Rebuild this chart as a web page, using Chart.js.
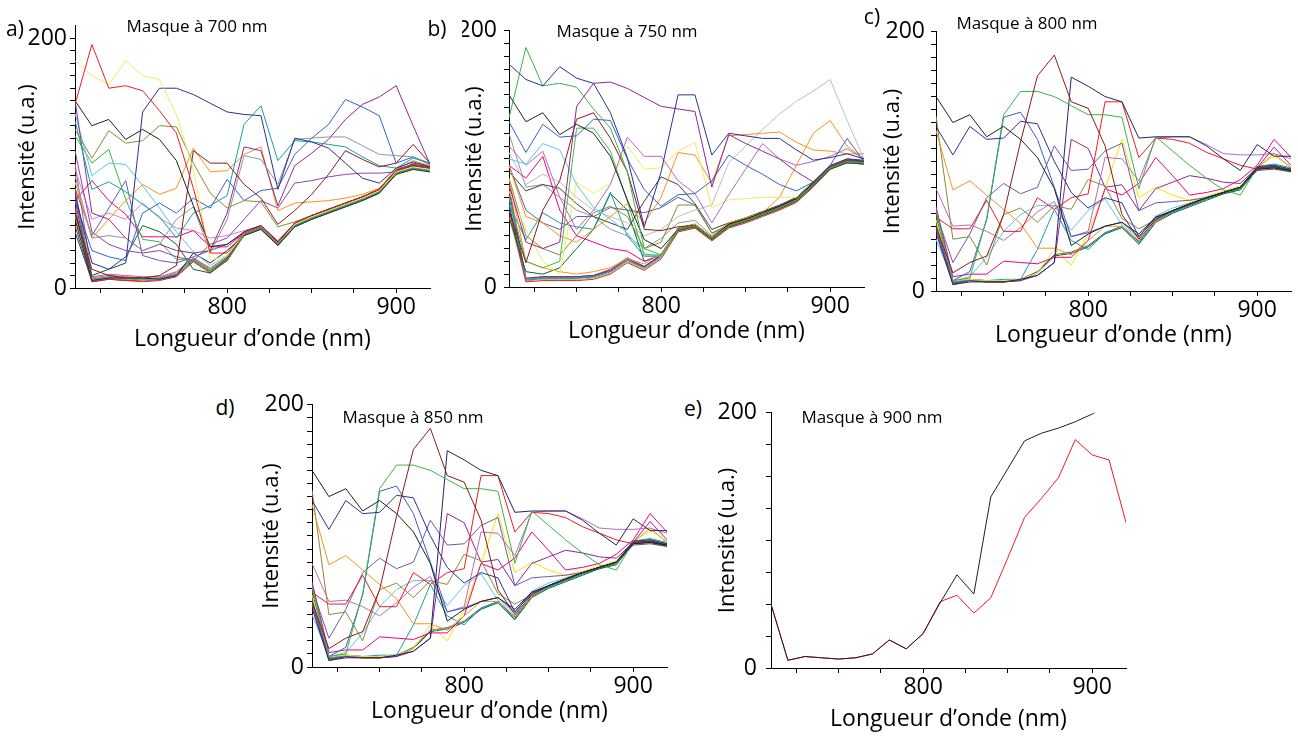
<!DOCTYPE html>
<html>
<head>
<meta charset="UTF-8">
<title>Spectres avec masque</title>
<script src="https://cdn.jsdelivr.net/npm/chart.js"></script>
<style>
  body { margin: 0; background: #fff; }
  #page { position: relative; width: 1298px; height: 736px; overflow: hidden; font-family: "Open Sans", sans-serif; color: #000; }
  canvas { position: absolute; }
  .lettre { position: absolute; font-size: 21px; line-height: 1; transform: translate(-50%, -50%); }
  .masque { position: absolute; font-size: 17px; line-height: 1; white-space: nowrap; transform: translate(-50%, -50%); }
</style>
</head>
<body>
<div id="page">
  <canvas id="chartA" width="425" height="344" style="left:15px;top:9px"></canvas>
  <canvas id="chartB" width="412" height="335" style="left:462px;top:10px"></canvas>
  <canvas id="chartC" width="418" height="337" style="left:880px;top:12px"></canvas>
  <canvas id="chartD" width="418" height="337" style="left:259px;top:388px"></canvas>
  <canvas id="chartE" width="421" height="343" style="left:715px;top:390px"></canvas>

  <div class="lettre" style="left:15px;top:28px">a)</div>
  <div class="lettre" style="left:437px;top:28px">b)</div>
  <div class="lettre" style="left:872px;top:16px">c)</div>
  <div class="lettre" style="left:225px;top:407px">d)</div>
  <div class="lettre" style="left:693px;top:408px">e)</div>

  <div class="masque" style="left:197px;top:25px">Masque à 700 nm</div>
  <div class="masque" style="left:627px;top:30px">Masque à 750 nm</div>
  <div class="masque" style="left:1027px;top:22px">Masque à 800 nm</div>
  <div class="masque" style="left:413px;top:416px">Masque à 850 nm</div>
  <div class="masque" style="left:872px;top:416px">Masque à 900 nm</div>
</div>

<script>
// longueurs d'onde (nm), un point tous les 10 nm
var wavelengths = [710, 720, 730, 740, 750, 760, 770, 780, 790, 800, 810, 820, 830, 840, 850, 860, 870, 880, 890, 900, 910, 920];

// graduations
var xTickValues = [725, 750, 775, 800, 825, 850, 875, 900];
var xTickLabels = [800, 900];
var yTickValues = [0, 10, 20, 30, 40, 50, 60, 70, 80, 90, 100, 110, 120, 130, 140, 150, 160, 170, 180, 190, 200];
var yTickValuesE = [0, 25, 50, 75, 100, 125, 150, 175, 200];
var yTickLabels = [0, 200];

// a) masque a 700 nm
var a01 = [147, 195, 160, 162, 158, 142, 124, 80, 28, 28, 44, 49, 36, 52, 58, 63, 68, 73, 79, 94, 98, 96];
var a02 = [182, 170, 163, 182, 170, 167, 139, 95, 22, 26, 44, 49, 36, 51, 57, 62, 67, 72, 78, 93, 97, 95];
var a03 = [75, 20, 15, 20, 141, 160, 160, 155, 148, 141, 139, 138, 79, 120, 117, 112, 100, 88, 84, 96, 101, 97];
var a04 = [150, 130, 135, 119, 127, 119, 102, 66, 33, 35, 45, 50, 37, 52, 58, 63, 68, 73, 79, 94, 98, 96];
var a05 = [127, 104, 126, 116, 118, 130, 129, 100, 76, 64, 70, 69, 49, 53, 58, 63, 68, 73, 79, 94, 98, 96];
var a06 = [60, 15, 10, 8, 8, 10, 18, 110, 100, 100, 83, 72, 51, 62, 75, 91, 110, 103, 97, 100, 115, 100];
var a07 = [134, 79, 85, 77, 67, 57, 40, 60, 66, 74, 131, 146, 102, 118, 117, 115, 113, 105, 98, 96, 104, 100];
var a08 = [90, 40, 42, 40, 30, 35, 55, 65, 28, 55, 106, 103, 83, 119, 120, 121, 121, 114, 107, 106, 105, 100];
var a09 = [70, 30, 25, 22, 60, 68, 60, 72, 64, 87, 70, 78, 80, 107, 120, 131, 151, 145, 138, 100, 105, 99];
var a10 = [150, 60, 55, 40, 30, 35, 30, 28, 30, 60, 113, 110, 66, 98, 108, 119, 135, 147, 153, 162, 130, 99];
var a11 = [85, 40, 55, 70, 83, 75, 80, 112, 93, 94, 107, 113, 62, 68, 69, 70, 72, 75, 80, 95, 102, 98];
var a12 = [110, 45, 35, 30, 28, 30, 25, 22, 35, 40, 55, 70, 64, 84, 86, 89, 91, 92, 92, 93, 100, 98];
var a13 = [140, 90, 100, 99, 82, 64, 45, 29, 18, 26, 44, 49, 36, 51, 57, 62, 67, 72, 78, 93, 97, 95];
var a14 = [122, 100, 111, 71, 39, 37, 23, 22, 14, 25, 43, 48, 35, 50, 56, 61, 66, 71, 77, 92, 96, 94];
var a15 = [70, 86, 70, 59, 41, 41, 41, 46, 33, 33, 44, 49, 36, 52, 58, 63, 68, 73, 79, 94, 98, 96];
var a16 = [95, 55, 60, 55, 68, 56, 48, 46, 40, 42, 46, 50, 38, 52, 58, 63, 68, 73, 79, 94, 98, 96];
var a17 = [80, 42, 64, 86, 26, 22, 20, 25, 30, 35, 44, 49, 36, 52, 58, 63, 68, 73, 79, 94, 98, 96];
var a18 = [60, 10, 15, 25, 50, 45, 35, 15, 12, 24, 43, 48, 35, 50, 56, 61, 66, 71, 77, 92, 96, 94];
var a19 = [55, 6, 8, 8, 8, 7, 10, 28, 20, 30, 42, 47, 34, 49, 55, 60, 65, 70, 76, 91, 95, 93];
var a20 = [65, 5, 7, 6, 5, 6, 9, 21, 12, 22, 43, 48, 35, 50, 56, 61, 66, 71, 77, 92, 96, 94];
var a21 = [58, 6, 8, 7, 6, 7, 10, 22, 13, 22, 42, 47, 34, 49, 55, 60, 65, 70, 76, 91, 95, 93];
var a22 = [62, 7, 9, 8, 7, 7, 11, 23, 14, 23, 44, 49, 36, 51, 57, 62, 67, 72, 78, 93, 97, 95];
var a23 = [70, 6, 8, 7, 6, 7, 10, 22, 13, 22, 43, 48, 35, 51, 57, 62, 67, 72, 78, 94, 98, 96];
var a24 = [50, 5, 7, 6, 6, 7, 10, 22, 13, 23, 44, 49, 36, 52, 58, 63, 68, 73, 79, 95, 99, 97];
var a25 = [75, 7, 9, 8, 7, 8, 11, 23, 14, 23, 43, 48, 35, 50, 56, 61, 66, 71, 77, 93, 97, 95];
var a26 = [45, 6, 8, 7, 6, 7, 10, 22, 13, 22, 42, 47, 34, 49, 55, 60, 65, 70, 76, 92, 96, 94];
var a27 = [80, 8, 10, 9, 8, 8, 12, 24, 15, 24, 44, 49, 36, 51, 57, 62, 67, 72, 78, 94, 98, 96];
var a28 = [100, 9, 11, 10, 9, 9, 13, 24, 16, 25, 45, 50, 37, 52, 58, 63, 68, 73, 79, 95, 99, 97];

// b) masque a 750 nm
var b01 = [174, 162, 157, 172, 163, 159, 136, 101, 47, 90, 150, 150, 103, 120, 118, 116, 116, 107, 99, 101, 104, 100];
var b02 = [80, 35, 30, 35, 141, 159, 160, 155, 148, 141, 139, 137, 78, 119, 112, 106, 100, 90, 82, 94, 99, 98];
var b03 = [132, 187, 157, 159, 156, 139, 124, 90, 30, 25, 45, 48, 38, 48, 52, 57, 62, 68, 80, 93, 98, 97];
var b04 = [150, 129, 136, 119, 127, 120, 102, 68, 37, 30, 45, 48, 38, 49, 53, 58, 63, 69, 81, 94, 99, 98];
var b05 = [129, 105, 127, 117, 118, 131, 130, 100, 76, 63, 72, 73, 83, 103, 95, 88, 80, 75, 82, 95, 116, 98];
var b06 = [60, 19, 60, 83, 131, 136, 116, 90, 45, 44, 47, 48, 38, 48, 52, 57, 62, 68, 80, 93, 98, 97];
var b07 = [70, 20, 15, 20, 124, 124, 106, 67, 25, 25, 45, 48, 38, 48, 52, 57, 62, 68, 80, 93, 98, 97];
var b08 = [100, 96, 112, 107, 80, 62, 53, 42, 26, 24, 45, 48, 38, 48, 52, 57, 62, 68, 80, 93, 98, 97];
var b09 = [110, 95, 106, 70, 45, 60, 80, 117, 102, 102, 83, 73, 50, 72, 92, 112, 100, 95, 98, 102, 108, 100];
var b10 = [75, 45, 20, 10, 82, 73, 81, 110, 92, 93, 106, 113, 62, 68, 69, 70, 70, 70, 80, 94, 99, 97];
var b11 = [95, 55, 50, 40, 35, 45, 55, 65, 50, 70, 105, 103, 81, 118, 119, 120, 121, 113, 107, 106, 104, 104];
var b12 = [85, 20, 15, 12, 10, 12, 15, 22, 18, 26, 46, 49, 39, 50, 54, 58, 70, 95, 120, 130, 110, 100];
var b13 = [105, 80, 88, 82, 70, 60, 55, 50, 40, 45, 55, 60, 64, 97, 110, 123, 135, 145, 153, 162, 130, 100];
var b14 = [90, 75, 80, 77, 65, 55, 50, 45, 67, 86, 80, 65, 45, 50, 54, 59, 64, 70, 82, 95, 100, 98];
var b15 = [95, 85, 102, 60, 40, 35, 30, 28, 20, 25, 46, 49, 38, 49, 53, 58, 63, 69, 81, 94, 99, 97];
var b16 = [64, 37, 58, 50, 47, 45, 74, 40, 24, 24, 45, 48, 38, 48, 52, 57, 62, 68, 80, 93, 98, 97];
var b17 = [55, 12, 10, 15, 30, 45, 73, 60, 20, 25, 44, 47, 37, 47, 51, 56, 61, 67, 79, 92, 97, 96];
var b18 = [85, 40, 30, 25, 40, 58, 63, 55, 30, 35, 64, 64, 42, 49, 53, 58, 63, 69, 81, 94, 99, 97];
var b19 = [120, 78, 80, 70, 60, 55, 45, 40, 30, 38, 50, 52, 40, 50, 54, 58, 63, 69, 81, 94, 99, 97];
var b20 = [95, 60, 50, 45, 55, 55, 62, 60, 58, 62, 70, 64, 42, 48, 52, 57, 62, 68, 80, 93, 98, 97];
var b21 = [60, 4, 5, 5, 5, 6, 10, 19, 13, 22, 43, 46, 36, 46, 50, 55, 60, 66, 78, 92, 97, 96];
var b22 = [55, 5, 6, 6, 6, 7, 11, 20, 14, 23, 44, 47, 37, 47, 51, 56, 61, 67, 79, 92, 97, 96];
var b23 = [70, 6, 7, 7, 7, 8, 12, 21, 15, 24, 45, 48, 38, 48, 52, 57, 62, 68, 80, 93, 98, 97];
var b24 = [75, 7, 8, 8, 8, 9, 13, 22, 16, 25, 46, 49, 39, 49, 53, 58, 63, 69, 81, 94, 99, 98];
var b25 = [65, 5, 7, 7, 7, 8, 12, 21, 15, 24, 45, 48, 38, 49, 53, 58, 63, 69, 81, 94, 100, 99];
var b26 = [80, 6, 8, 8, 8, 9, 13, 22, 16, 25, 46, 49, 39, 49, 53, 58, 63, 69, 81, 94, 99, 98];
var b27 = [72, 6, 8, 8, 8, 9, 14, 23, 16, 25, 45, 48, 38, 48, 52, 57, 62, 68, 80, 93, 98, 97];
var b28 = [62, 5, 7, 7, 7, 8, 12, 21, 15, 24, 44, 47, 37, 47, 51, 56, 61, 67, 79, 92, 97, 96];

// c) masque a 800 nm (d) a 850 nm donne les memes courbes)
var c01 = [150, 130, 136, 119, 127, 117, 103, 79, 35, 44, 50, 53, 44, 57, 62, 67, 72, 76, 80, 94, 95, 93];
var c02 = [127, 105, 127, 117, 118, 131, 129, 100, 76, 64, 72, 68, 42, 56, 62, 67, 72, 76, 80, 96, 97, 94];
var c03 = [50, 14, 22, 27, 59, 115, 166, 182, 146, 141, 112, 59, 40, 55, 62, 67, 72, 76, 80, 95, 96, 93];
var c04 = [62, 8, 10, 56, 136, 154, 154, 150, 143, 136, 136, 134, 79, 119, 108, 97, 87, 78, 74, 95, 97, 94];
var c05 = [50, 8, 15, 55, 134, 138, 117, 80, 42, 45, 50, 53, 42, 57, 62, 67, 72, 76, 80, 95, 96, 94];
var c06 = [45, 5, 7, 7, 7, 9, 12, 22, 165, 158, 150, 146, 118, 119, 119, 119, 112, 102, 93, 113, 104, 104];
var c07 = [57, 48, 48, 70, 46, 46, 72, 63, 72, 75, 146, 146, 103, 118, 117, 114, 107, 102, 97, 94, 96, 93];
var c08 = [124, 78, 85, 74, 63, 52, 33, 33, 28, 39, 50, 50, 39, 54, 62, 68, 72, 76, 80, 95, 106, 95];
var c09 = [135, 40, 42, 20, 59, 64, 53, 66, 63, 86, 81, 56, 48, 55, 62, 67, 72, 76, 80, 95, 96, 94];
var c10 = [79, 50, 51, 46, 39, 49, 61, 69, 42, 46, 103, 102, 85, 118, 119, 119, 113, 106, 105, 105, 106, 102];
var c11 = [60, 22, 44, 72, 83, 75, 80, 112, 93, 94, 108, 114, 62, 68, 69, 70, 72, 76, 80, 95, 96, 94];
var c12 = [48, 6, 8, 7, 7, 8, 12, 22, 117, 110, 80, 82, 62, 79, 84, 89, 87, 84, 83, 95, 111, 97];
var c13 = [65, 11, 13, 13, 23, 22, 21, 26, 26, 39, 79, 74, 83, 103, 89, 74, 76, 79, 86, 97, 117, 103];
var c14 = [55, 8, 9, 8, 8, 9, 14, 32, 20, 44, 79, 117, 72, 80, 74, 70, 73, 77, 81, 96, 104, 96];
var c15 = [40, 8, 11, 26, 46, 59, 66, 66, 47, 62, 71, 51, 41, 58, 64, 68, 72, 76, 80, 96, 97, 94];
var c16 = [64, 7, 9, 8, 9, 9, 32, 63, 39, 32, 45, 49, 37, 54, 61, 66, 71, 76, 79, 96, 98, 95];
var c17 = [58, 5, 8, 7, 7, 8, 14, 27, 29, 34, 44, 49, 36, 53, 60, 65, 70, 75, 78, 94, 95, 92];
var c18 = [52, 6, 9, 8, 7, 9, 15, 28, 30, 35, 45, 50, 38, 54, 61, 66, 71, 75, 79, 93, 94, 92];

// e) masque a 900 nm
var e01 = [50, 6, 9, 8, 7, 8, 11, 22, 15, 27, 51, 73, 58, 134, 156, 178, 184, 188, 193, 199, 208, 215];
var e02 = [50, 6, 9, 8, 7, 8, 11, 22, 15, 27, 52, 57, 43, 55, 86, 118, 133, 149, 179, 167, 163, 114];

var seriesA = [a01, a02, a03, a04, a05, a06, a07, a08, a09, a10, a11, a12, a13, a14, a15, a16, a17, a18, a19, a20, a21, a22, a23, a24, a25, a26, a27, a28];
var coloursA = ['#ed1c24', '#f3ea5d', '#2e3192', '#231f20', '#8a8a3a', '#8b1a1a', '#15a0a0', '#939598', '#3a5fcd', '#92278f', '#f7941d', '#8e44ad', '#5bc8e8', '#39b54a', '#ec008c', '#d77fd0', '#5b5ea6', '#006837', '#262262', '#ed1c24', '#8dc63f', '#27aae1', '#662d91', '#754c24', '#00a99d', '#2b3990', '#f15a29', '#c2569f'];

var seriesB = [b01, b02, b03, b04, b05, b06, b07, b08, b09, b10, b11, b12, b13, b14, b15, b16, b17, b18, b19, b20, b21, b22, b23, b24, b25, b26, b27, b28];
var coloursB = ['#2e3192', '#92278f', '#39b54a', '#231f20', '#3a5fcd', '#8b1a1a', '#4cb848', '#5bc8e8', '#b36cc1', '#f3ea5d', '#f7941d', '#f7941d', '#bcbec0', '#414042', '#ec008c', '#15a0a0', '#006837', '#8a8a3a', '#939598', '#5b5ea6', '#ed1c24', '#8dc63f', '#27aae1', '#662d91', '#2b3990', '#f15a29', '#c2569f', '#754c24'];

var seriesC = [c01, c02, c03, c04, c05, c06, c07, c08, c09, c10, c11, c12, c13, c14, c15, c16, c17, c18];
var coloursC = ['#231f20', '#2e3192', '#8b1a1a', '#39b54a', '#3a5fcd', '#262262', '#ed1c24', '#f7941d', '#8a8a3a', '#b36cc1', '#6a5aad', '#92278f', '#ec008c', '#f2e600', '#5bc8e8', '#15a0a0', '#006837', '#58595b'];

var seriesE = [e01, e02];
var coloursE = ['#231f20', '#ed1c24'];

var fontName = '"Open Sans", sans-serif';

function buildChart(id, series, colours, box) {
    var datasets = series.map(function (vals, i) {
        return {
            data: wavelengths.map(function (w, j) { return { x: w, y: vals[j] }; }),
            borderColor: colours[i],
            borderWidth: 1,
            pointRadius: 0,
            fill: false,
            tension: 0
        };
    });

    return new Chart(document.getElementById(id), {
        type: 'line',
        data: { datasets: datasets },
        options: {
            responsive: false,
            animation: false,
            events: [],
            layout: { padding: { top: 16, right: box.right, left: 0, bottom: 0 } },
            plugins: { legend: { display: false }, tooltip: { enabled: false } },
            scales: {
                x: {
                    type: 'linear',
                    min: 710,
                    max: 920,
                    border: { color: '#000', width: 1 },
                    grid: { drawOnChartArea: false, color: '#000', tickLength: 5 },
                    ticks: {
                        autoSkip: false,
                        maxRotation: 0,
                        minRotation: 0,
                        padding: 1,
                        color: '#000',
                        font: { family: fontName, size: 23 },
                        callback: function (v) { return xTickLabels.indexOf(v) >= 0 ? String(v) : ''; }
                    },
                    // graduations fixes tous les 25 nm
                    afterBuildTicks: function (axis) {
                        axis.ticks = xTickValues.map(function (v) { return { value: v }; });
                    },
                    afterFit: function (axis) { axis.height = box.xHeight; },
                    title: { display: true, text: 'Longueur d\u2019onde (nm)', color: '#000', padding: 0, font: { family: fontName, size: 23 } }
                },
                y: {
                    type: 'linear',
                    min: 0,
                    max: box.yMax,
                    border: { color: '#000', width: 1 },
                    grid: { drawOnChartArea: false, color: '#000', tickLength: 5 },
                    ticks: {
                        autoSkip: false,
                        padding: box.yPad,
                        color: '#000',
                        font: { family: fontName, size: 23 },
                        callback: function (v) { return yTickLabels.indexOf(v) >= 0 ? String(v) : ''; }
                    },
                    afterBuildTicks: function (axis) {
                        axis.ticks = box.yTicks.map(function (v) { return { value: v }; });
                    },
                    afterFit: function (axis) { axis.width = box.yWidth; },
                    title: { display: true, text: 'Intensité (u.a.)', color: '#000', padding: 0, font: { family: fontName, size: 22 } }
                }
            }
        }
    });
}

buildChart('chartA', seriesA, coloursA, { yWidth: 60, xHeight: 65, right: 10, yMax: 210, yTicks: yTickValues, yPad: 3 });
buildChart('chartB', seriesB, coloursB, { yWidth: 47, xHeight: 58, right: 10, yMax: 200, yTicks: yTickValues, yPad: 7 });
buildChart('chartC', seriesC, coloursC, { yWidth: 56, xHeight: 58, right: 7, yMax: 200, yTicks: yTickValues, yPad: 6 });
buildChart('chartD', seriesC, coloursC, { yWidth: 53, xHeight: 58, right: 10, yMax: 200, yTicks: yTickValues, yPad: 3 });
buildChart('chartE', seriesE, coloursE, { yWidth: 56, xHeight: 65, right: 10, yMax: 200, yTicks: yTickValuesE, yPad: 9 });
</script>
</body>
</html>
